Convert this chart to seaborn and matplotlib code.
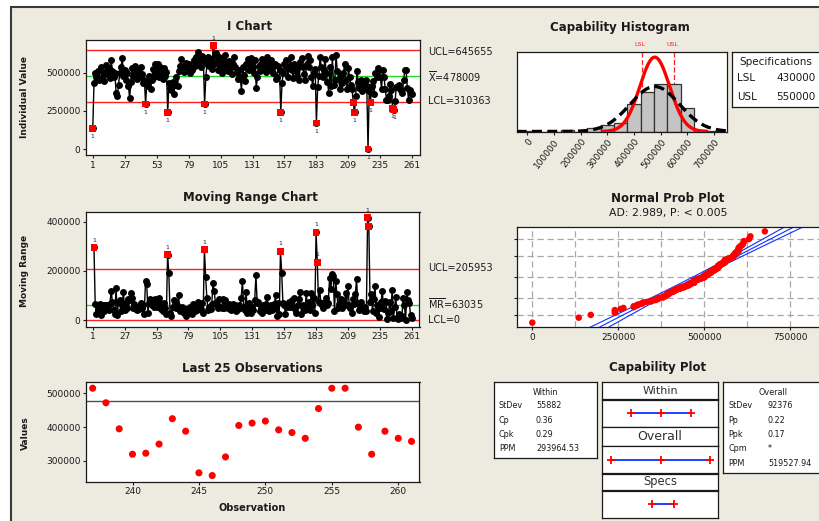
import numpy as np
import pandas as pd
import matplotlib
matplotlib.use("Agg")
import matplotlib.pyplot as plt
import seaborn as sns
from matplotlib.patches import Rectangle
from statistics import NormalDist

# ---------------- data ----------------
values = [
    135000, 430000, 495000, 470000, 510000, 455000, 520000, 540000, 480000, 445000,
    505000, 550000, 490000, 530000, 465000, 585000, 510000, 470000, 495000, 365000,
    345000, 420000, 500000, 535000, 595000, 480000, 520000, 450000, 500000, 415000,
    332000, 440000, 530000, 480000, 545000, 500000, 460000, 515000, 470000, 540000,
    490000, 430000, 455000, 295000, 440000, 410000, 480000, 395000, 455000, 525000,
    470000, 555000, 500000, 560000, 470000, 540000, 495000, 460000, 530000, 480000,
    505000, 240000, 430000, 400000, 385000, 440000, 360000, 420000, 470000, 410000,
    510000, 545000, 590000, 535000, 505000, 550000, 565000, 520000, 555000, 500000,
    540000, 515000, 580000, 545000, 600000, 560000, 634000, 585000, 540000, 610000,
    582000, 295000, 470000, 560000, 600000, 545000, 590000, 526000, 676000, 560000,
    630000, 570000, 520000, 605000, 550000, 500000, 585000, 535000, 615000, 560000,
    510000, 575000, 530000, 490000, 555000, 600000, 540000, 505000, 460000, 520000,
    470000, 380000, 540000, 485000, 445000, 560000, 590000, 520000, 565000, 595000,
    540000, 500000, 583000, 400000, 470000, 545000, 510000, 560000, 590000, 530000,
    570000, 505000, 600000, 555000, 520000, 580000, 540000, 495000, 560000, 460000,
    475000, 545000, 520000, 240000, 430000, 500000, 560000, 585000, 530000, 470000,
    545000, 600000, 520000, 465000, 555000, 510000, 480000, 540000, 455000, 570000,
    595000, 535000, 490000, 450000, 560000, 612000, 540000, 580000, 470000, 410000,
    500000, 527000, 170000, 405000, 480000, 604000, 540000, 470000, 520000, 590000,
    500000, 440000, 370000, 540000, 415000, 600000, 420000, 455000, 614000, 510000,
    460000, 395000, 480000, 430000, 500000, 560000, 450000, 390000, 530000, 470000,
    420000, 390000, 305000, 240000, 345000, 510000, 440000, 400000, 455000, 380000,
    430000, 395000, 450000, 415000, 0, 380000, 305000, 410000, 445000, 360000,
    500000, 470000, 530000, 518000, 470000, 395000, 515000, 472000, 395000, 320000,
    323000, 350000, 425000, 388000, 265000, 257000, 312000, 405000, 412000, 418000,
    392000, 384000, 367000, 455000, 515000, 515000, 400000, 320000, 388000, 367000, 358000,
]
obs = list(range(1, len(values) + 1))

i_xticks = [1, 27, 53, 79, 105, 131, 157, 183, 209, 235, 261]
i_yticks = [0, 250000, 500000]
i_ucl, i_center, i_lcl = 645655, 478009, 310363
mr_ucl, mr_center, mr_lcl = 205953, 63035, 0
mr_yticks = [0, 200000, 400000]
last_n = 25
last_xticks = [240, 245, 250, 255, 260]
last_yticks = [300000, 400000, 500000]
lsl, usl = 430000, 550000
sd_within, sd_overall = 55882, 92376
hist_edges = list(range(-25000, 750001, 50000))
hist_xticks = [0, 100000, 200000, 300000, 400000, 500000, 600000, 700000]
prob_xticks = [0, 250000, 500000, 750000]
prob_percents = [1, 10, 50, 90, 99]
ad_text = "AD: 2.989, P: < 0.005"
within_labels = ["StDev", "Cp", "Cpk", "PPM"]
within_values = ["55882", "0.36", "0.29", "293964.53"]
overall_labels = ["StDev", "Pp", "Ppk", "Cpm", "PPM"]
overall_values = ["92376", "0.22", "0.17", "*", "519527.94"]

# ---------------- setup ----------------
sns.set_style("white")
plt.rcParams["font.family"] = ["DejaVu Sans"]
plt.rcParams["mathtext.fontset"] = "dejavusans"

W, H = 820, 521
fig = plt.figure(figsize=(W / 100, H / 100), dpi=100)
fig.patch.set_facecolor("white")
BEIGE = "#EDEAE0"
fig.add_artist(Rectangle((11 / W, -0.02), (W - 11 + 20) / W, (H - 7) / H + 0.02,
                         transform=fig.transFigure, facecolor=BEIGE,
                         edgecolor="#3a3a3a", lw=1.5, zorder=-10))

DARK = "#1a1a1a"


def px_ax(l, t, r, b):
    return fig.add_axes([l / W, 1 - b / H, (r - l) / W, (b - t) / H])


def ftxt(x, y, s, **kw):
    kw.setdefault("ha", "center")
    kw.setdefault("va", "center")
    kw.setdefault("color", DARK)
    fig.text(x / W, 1 - y / H, s, **kw)


def style(ax, fs=6.5):
    ax.set_facecolor("white")
    for sp in ax.spines.values():
        sp.set_color(DARK)
        sp.set_linewidth(0.9)
        sp.set_visible(True)
    ax.tick_params(direction="out", length=2.5, width=0.8, labelsize=fs,
                   pad=1.5, colors=DARK, left=True, bottom=True)
    ax.set_xlabel("")
    ax.set_ylabel("")


vals = np.array(values, dtype=float)
n = len(vals)
df = pd.DataFrame({"obs": obs, "value": vals})

# ---------------- I chart ----------------
ax = px_ax(86, 40, 420, 155)
ax.axhline(i_ucl, color="#ff2020", lw=1.0, zorder=1)
ax.axhline(i_lcl, color="#ff2020", lw=1.0, zorder=1)
ax.axhline(i_center, color="#22dd22", lw=1.0, zorder=1)
sns.lineplot(data=df, x="obs", y="value", ax=ax, color="black", lw=1.0,
             marker="o", markersize=5.0, markeredgewidth=0, zorder=2)
out_i = df[(df.value > i_ucl) | (df.value < i_lcl)]
sns.scatterplot(data=out_i, x="obs", y="value", ax=ax, color="#ff0000",
                marker="s", s=24, edgecolor="none", zorder=3)
for x, y in zip(out_i.obs, out_i.value):
    if y > i_ucl:
        ax.annotate("1", (x, y), xytext=(0, 3.5), textcoords="offset points",
                    ha="center", va="bottom", fontsize=4.5, color="#202040")
    else:
        ax.annotate("1", (x, y), xytext=(0, -4), textcoords="offset points",
                    ha="center", va="top", fontsize=4.5, color="#202040")
ax.set_xlim(-4.5, 267.3)
ax.set_ylim(-39000, 714000)
ax.set_xticks(i_xticks)
ax.set_yticks(i_yticks)
style(ax)
ftxt(250, 27, "I Chart", fontsize=8.5, fontweight="bold")
ftxt(25, 97, "Individual Value", fontsize=6.5, fontweight="bold", rotation=90)
ftxt(428, 52, f"UCL={i_ucl}", fontsize=7, ha="left")
ftxt(428, 77, r"$\overline{\mathrm{X}}$" + f"={i_center}", fontsize=7, ha="left")
ftxt(428, 101, f"LCL={i_lcl}", fontsize=7, ha="left")

# ---------------- Moving range chart ----------------
mr = np.abs(np.diff(vals))
dmr = pd.DataFrame({"obs": obs[1:], "mr": mr})
ax = px_ax(86, 211.7, 419.5, 326.7)
ax.axhline(mr_ucl, color="#ff2020", lw=1.0, zorder=1)
ax.axhline(mr_lcl, color="#ff2020", lw=1.0, zorder=1)
ax.axhline(mr_center, color="#22dd22", lw=1.0, zorder=1)
sns.lineplot(data=dmr, x="obs", y="mr", ax=ax, color="black", lw=1.0,
             marker="o", markersize=5.0, markeredgewidth=0, zorder=2)
out_m = dmr[dmr.mr > mr_ucl]
sns.scatterplot(data=out_m, x="obs", y="mr", ax=ax, color="#ff0000",
                marker="s", s=24, edgecolor="none", zorder=3)
for x, y in zip(out_m.obs, out_m.mr):
    ax.annotate("1", (x, y), xytext=(0, 3.5), textcoords="offset points",
                ha="center", va="bottom", fontsize=4.5, color="#202040")
ax.set_xlim(-4.5, 267.3)
ax.set_ylim(-27000, 440000)
ax.set_xticks(i_xticks)
ax.set_yticks(mr_yticks)
style(ax)
ftxt(250, 198, "Moving Range Chart", fontsize=8.5, fontweight="bold")
ftxt(25, 271, "Moving Range", fontsize=6.5, fontweight="bold", rotation=90)
ftxt(428, 268, f"UCL={mr_ucl}", fontsize=7, ha="left")
ftxt(428, 304, r"$\overline{\mathrm{MR}}$" + f"={mr_center}", fontsize=7, ha="left")
ftxt(428, 320, f"LCL={mr_lcl}", fontsize=7, ha="left")

# ---------------- Last 25 observations ----------------
dl = df.tail(last_n)
ax = px_ax(86, 382, 419.5, 481.7)
ax.axhline(i_center, color="#505050", lw=1.0, zorder=1)
sns.scatterplot(data=dl, x="obs", y="value", ax=ax, color="#ff0000", s=26,
                edgecolor="none", zorder=3)
ax.set_xlim(236.5, 261.6)
ax.set_ylim(238800, 533400)
ax.set_xticks(last_xticks)
ax.set_yticks(last_yticks)
style(ax)
ftxt(252, 368, "Last 25 Observations", fontsize=8.5, fontweight="bold")
ftxt(25, 433, "Values", fontsize=6.5, fontweight="bold", rotation=90)
ftxt(252, 508, "Observation", fontsize=7, fontweight="bold")

# ---------------- Capability histogram ----------------
ax = px_ax(516.7, 51.7, 727.3, 131.5)
bw = hist_edges[1] - hist_edges[0]
ax.axvline(lsl, color="#ff2020", lw=0.9, dashes=(4, 2), zorder=0.5)
ax.axvline(usl, color="#ff2020", lw=0.9, dashes=(4, 2), zorder=0.5)
sns.histplot(x=vals, bins=hist_edges, ax=ax, color="#c4c4c4", edgecolor="#333333",
             linewidth=0.9, alpha=1, zorder=1)


def npdf(x, m, s):
    return np.exp(-0.5 * ((x - m) / s) ** 2) / (s * np.sqrt(2 * np.pi))


xr = np.linspace(i_center - 3.5 * sd_within, i_center + 3.5 * sd_within, 300)
ax.plot(xr, n * bw * npdf(xr, i_center, sd_within), color="#ff0000", lw=2.4, zorder=3)
xo = np.linspace(-40000, 752000, 400)
ax.plot(xo, n * bw * npdf(xo, i_center, sd_overall), color="black", lw=2.4,
        dashes=(3, 1.6), zorder=4)
ax.set_xlim(-39700, 750000)
ax.set_ylim(0, 100)
ax.set_xticks(hist_xticks)
ax.set_xticklabels([str(t) for t in hist_xticks], rotation=52, ha="right",
                   rotation_mode="anchor")
ax.set_yticks([])
style(ax)
ax.tick_params(axis="y", left=False)
ftxt(620, 27, "Capability Histogram", fontsize=8.5, fontweight="bold")
ftxt(640, 45, "LSL", fontsize=4.5, color="#ff2020")
ftxt(672, 45, "USL", fontsize=4.5, color="#ff2020")

# specifications box
axs = px_ax(732, 52, 845, 107)
axs.set_xticks([]); axs.set_yticks([])
for sp in axs.spines.values():
    sp.set_color(DARK); sp.set_linewidth(0.9)
axs.set_facecolor("white")
ftxt(739, 62, "Specifications", fontsize=7.5, ha="left")
ftxt(737, 78, "LSL", fontsize=7.5, ha="left")
ftxt(776, 78, f"{lsl}", fontsize=7.5, ha="left")
ftxt(737, 97, "USL", fontsize=7.5, ha="left")
ftxt(776, 97, f"{usl}", fontsize=7.5, ha="left")

# ---------------- Normal probability plot ----------------
ax = px_ax(516.7, 226.7, 850, 327.3)
nd = NormalDist()
sv = np.sort(vals)
pp = (np.arange(1, n + 1) - 0.3) / (n + 0.4)
zz = np.array([nd.inv_cdf(p) for p in pp])
grid_z = [nd.inv_cdf(p / 100) for p in prob_percents]
for gx in np.arange(0, 1000001, 125000):
    ax.axvline(gx, color="#a8a8a8", lw=0.9, dashes=(5, 3), zorder=0)
for gz in grid_z:
    ax.axhline(gz, color="#a8a8a8", lw=0.9, dashes=(5, 3), zorder=0)
zf = np.linspace(-3.3, 3.3, 120)
xf = i_center + sd_overall * zf
se = sd_overall * np.sqrt(1 / n + zf ** 2 / (2 * (n - 1)))
for off in (-1.96, 0, 1.96):
    ax.plot(xf + off * se, zf, color="#1030ff", lw=0.8, zorder=2)
sns.scatterplot(x=sv, y=zz, ax=ax, color="#ff0000", s=22, edgecolor="none", zorder=3)
ax.set_xlim(-45300, 923500)
ax.set_ylim(-3.07, 3.07)
ax.set_xticks(prob_xticks)
ax.set_yticks(grid_z)
ax.set_yticklabels([])
style(ax)
ftxt(668, 198, "Normal Prob Plot", fontsize=8.5, fontweight="bold")
ftxt(668, 213, ad_text, fontsize=7.8)

# ---------------- Capability plot ----------------
ftxt(658, 368, "Capability Plot", fontsize=8.5, fontweight="bold")


def box_ax(l, t, r, b):
    a = px_ax(l, t, r, b)
    a.set_xticks([]); a.set_yticks([])
    a.set_facecolor("white")
    for sp in a.spines.values():
        sp.set_color(DARK); sp.set_linewidth(0.9)
    return a


box_ax(494, 382.3, 597.3, 457.7)
ftxt(545.5, 392.7, "Within", fontsize=5.8)
for k, (lab, v) in enumerate(zip(within_labels, within_values)):
    y = 406 + k * 14.3
    ftxt(499, y, lab, fontsize=5.8, ha="left")
    ftxt(536, y, v, fontsize=5.8, ha="left")

box_ax(723.3, 382.3, 835, 472.7)
ftxt(773.3, 392.7, "Overall", fontsize=5.8)
for k, (lab, v) in enumerate(zip(overall_labels, overall_values)):
    y = 406 + k * 14.3
    ftxt(728.7, y, lab, fontsize=5.8, ha="left")
    ftxt(768, y, v, fontsize=5.8, ha="left")

cap_xlim = (148000, 800000)
rows = [
    ("Within", 8, (382.3, 399.3), (400.0, 426.7),
     [i_center - 3 * sd_within, i_center, i_center + 3 * sd_within]),
    ("Overall", 9, (427.3, 445.7), (446.3, 473.3),
     [i_center - 3 * sd_overall, i_center, i_center + 3 * sd_overall]),
    ("Specs", 8.3, (474.0, 490.0), (490.7, 518.3), [lsl, usl]),
]
for name, fs, (ht, hb), (lt, lb), pts in rows:
    box_ax(602, ht, 718, hb)
    ftxt(660, (ht + hb) / 2, name, fontsize=fs, color="#303030")
    a = box_ax(602, lt, 718, lb)
    a.plot([pts[0], pts[-1]], [0, 0], color="#1030ff", lw=1.3, zorder=2)
    sns.scatterplot(x=pts, y=[0] * len(pts), ax=a, marker="+", color="#ff0000",
                    s=36, linewidth=1.3, zorder=3)
    a.set_xlim(*cap_xlim)
    a.set_ylim(-1, 1)
    a.set_xticks([]); a.set_yticks([])
    a.set_xlabel(""); a.set_ylabel("")

fig.savefig("out.png", dpi=100)
